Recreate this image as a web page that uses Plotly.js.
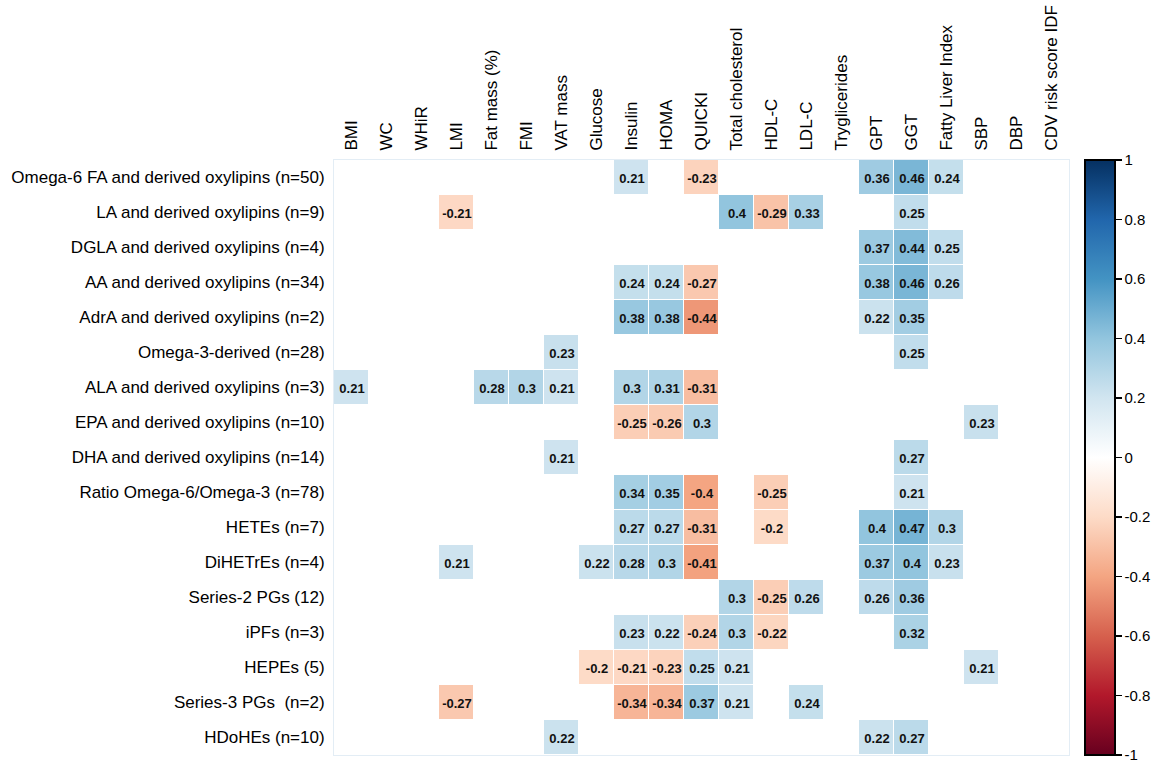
<!DOCTYPE html>
<html>
<head>
<meta charset="utf-8">
<script src="https://cdn.plot.ly/plotly-3.0.1.min.js"></script>
<style>html,body{margin:0;padding:0;background:#fff;}#chart{width:1164px;height:765px;}</style>
</head>
<body>
<div id="chart"></div>
<script>
// Column variables (clinical parameters)
const columns = ["BMI","WC","WHiR","LMI","Fat mass (%)","FMI","VAT mass","Glucose","Insulin","HOMA","QUICKI","Total cholesterol","HDL-C","LDL-C","Tryglicerides","GPT","GGT","Fatty Liver Index","SBP","DBP","CDV risk score IDF"];

// Row variables (oxylipin groups)
const rows = [
  "Omega-6 FA and derived oxylipins (n=50)",
  "LA and derived oxylipins (n=9)",
  "DGLA and derived oxylipins (n=4)",
  "AA and derived oxylipins (n=34)",
  "AdrA and derived oxylipins (n=2)",
  "Omega-3-derived (n=28)",
  "ALA and derived oxylipins (n=3)",
  "EPA and derived oxylipins (n=10)",
  "DHA and derived oxylipins (n=14)",
  "Ratio Omega-6/Omega-3 (n=78)",
  "HETEs (n=7)",
  "DiHETrEs (n=4)",
  "Series-2 PGs (12)",
  "iPFs (n=3)",
  "HEPEs (5)",
  "Series-3 PGs  (n=2)",
  "HDoHEs (n=10)"
];

const _ = null;
//                BMI WC WHiR LMI  Fat  FMI  VAT  Glu   Ins   HOMA  QUICKI TC   HDL   LDL  TG  GPT  GGT  FLI  SBP  DBP CDV
const omega6     = [_, _, _, _,    _,   _,   _,   _,    0.21, _,    -0.23, _,   _,    _,   _,  0.36,0.46,0.24,_,   _,  _];
const la         = [_, _, _, -0.21,_,   _,   _,   _,    _,    _,    _,     0.4, -0.29,0.33,_,  _,   0.25,_,   _,   _,  _];
const dgla       = [_, _, _, _,    _,   _,   _,   _,    _,    _,    _,     _,   _,    _,   _,  0.37,0.44,0.25,_,   _,  _];
const aa         = [_, _, _, _,    _,   _,   _,   _,    0.24, 0.24, -0.27, _,   _,    _,   _,  0.38,0.46,0.26,_,   _,  _];
const adra       = [_, _, _, _,    _,   _,   _,   _,    0.38, 0.38, -0.44, _,   _,    _,   _,  0.22,0.35,_,   _,   _,  _];
const omega3     = [_, _, _, _,    _,   _,   0.23,_,    _,    _,    _,     _,   _,    _,   _,  _,   0.25,_,   _,   _,  _];
const ala        = [0.21,_,_, _,   0.28,0.3, 0.21,_,    0.3,  0.31, -0.31, _,   _,    _,   _,  _,   _,   _,   _,   _,  _];
const epa        = [_, _, _, _,    _,   _,   _,   _,    -0.25,-0.26,0.3,   _,   _,    _,   _,  _,   _,   _,   0.23,_,  _];
const dha        = [_, _, _, _,    _,   _,   0.21,_,    _,    _,    _,     _,   _,    _,   _,  _,   0.27,_,   _,   _,  _];
const ratio      = [_, _, _, _,    _,   _,   _,   _,    0.34, 0.35, -0.4,  _,   -0.25,_,   _,  _,   0.21,_,   _,   _,  _];
const hetes      = [_, _, _, _,    _,   _,   _,   _,    0.27, 0.27, -0.31, _,   -0.2, _,   _,  0.4, 0.47,0.3, _,   _,  _];
const dihetres   = [_, _, _, 0.21, _,   _,   _,   0.22, 0.28, 0.3,  -0.41, _,   _,    _,   _,  0.37,0.4, 0.23,_,   _,  _];
const series2pgs = [_, _, _, _,    _,   _,   _,   _,    _,    _,    _,     0.3, -0.25,0.26,_,  0.26,0.36,_,   _,   _,  _];
const ipfs       = [_, _, _, _,    _,   _,   _,   _,    0.23, 0.22, -0.24, 0.3, -0.22,_,   _,  _,   0.32,_,   _,   _,  _];
const hepes      = [_, _, _, _,    _,   _,   _,   -0.2, -0.21,-0.23,0.25,  0.21,_,    _,   _,  _,   _,   _,   0.21,_,  _];
const series3pgs = [_, _, _, -0.27,_,   _,   _,   _,    -0.34,-0.34,0.37,  0.21,_,    0.24,_,  _,   _,   _,   _,   _,  _];
const hdohes     = [_, _, _, _,    _,   _,   0.22,_,    _,    _,    _,     _,   _,    _,   _,  0.22,0.27,_,   _,   _,  _];

const colorbarTickVals = [1, 0.8, 0.6, 0.4, 0.2, 0, -0.2, -0.4, -0.6, -0.8, -1];
const colorbarTickText = ["1","0.8","0.6","0.4","0.2","0","-0.2","-0.4","-0.6","-0.8","-1"];

const z = [omega6, la, dgla, aa, adra, omega3, ala, epa, dha, ratio, hetes, dihetres, series2pgs, ipfs, hepes, series3pgs, hdohes];
const text = z.map(r => r.map(v => v === null ? "" : String(v)));

const rdbu = [
  [0.0, "#67001F"], [0.1, "#B2182B"], [0.2, "#D6604D"], [0.3, "#F4A582"], [0.4, "#FDDBC7"],
  [0.5, "#FFFFFF"], [0.6, "#D1E5F0"], [0.7, "#92C5DE"], [0.8, "#4393C3"], [0.9, "#2166AC"], [1.0, "#053061"]
];

const FONT = "Liberation Sans, Arial, sans-serif";

const trace = {
  type: "heatmap",
  x: columns,
  y: rows,
  z: z,
  text: text,
  texttemplate: "<b>%{text}</b>",
  textfont: {family: FONT, size: 13, color: "#111"},
  zmin: -1.0005, zmax: 1.0005,
  colorscale: rdbu,
  xgap: 1, ygap: 1,
  hoverongaps: false,
  colorbar: {
    x: 1.0218, xanchor: "left", xpad: 0,
    y: 0.5, yanchor: "middle", len: 1, lenmode: "fraction", ypad: 0,
    thickness: 30, thicknessmode: "pixels",
    outlinecolor: "#000", outlinewidth: 2,
    tickmode: "array", tickvals: colorbarTickVals, ticktext: colorbarTickText,
    ticks: "outside", ticklen: 6, tickwidth: 1.5, tickcolor: "#000",
    ticklabeloverflow: "allow",
    tickfont: {family: FONT, size: 15, color: "#000"}
  }
};

const layout = {
  width: 1164, height: 765,
  margin: {l: 334, r: 95, t: 160, b: 10},
  paper_bgcolor: "#fff", plot_bgcolor: "#fff",
  xaxis: {
    side: "top", type: "category", tickangle: -90,
    tickfont: {family: FONT, size: 17, color: "#000"},
    showgrid: false, zeroline: false, ticks: "", ticklabelstandoff: 5,
    showline: true, linecolor: "#e3edf5", linewidth: 1, mirror: true
  },
  yaxis: {
    type: "category", autorange: "reversed",
    tickfont: {family: FONT, size: 17, color: "#000"},
    showgrid: false, zeroline: false, ticks: "", ticklabelstandoff: 5,
    showline: true, linecolor: "#e3edf5", linewidth: 1, mirror: true
  }
};

Plotly.newPlot("chart", [trace], layout, {displayModeBar: false, staticPlot: true});
</script>
</body>
</html>
